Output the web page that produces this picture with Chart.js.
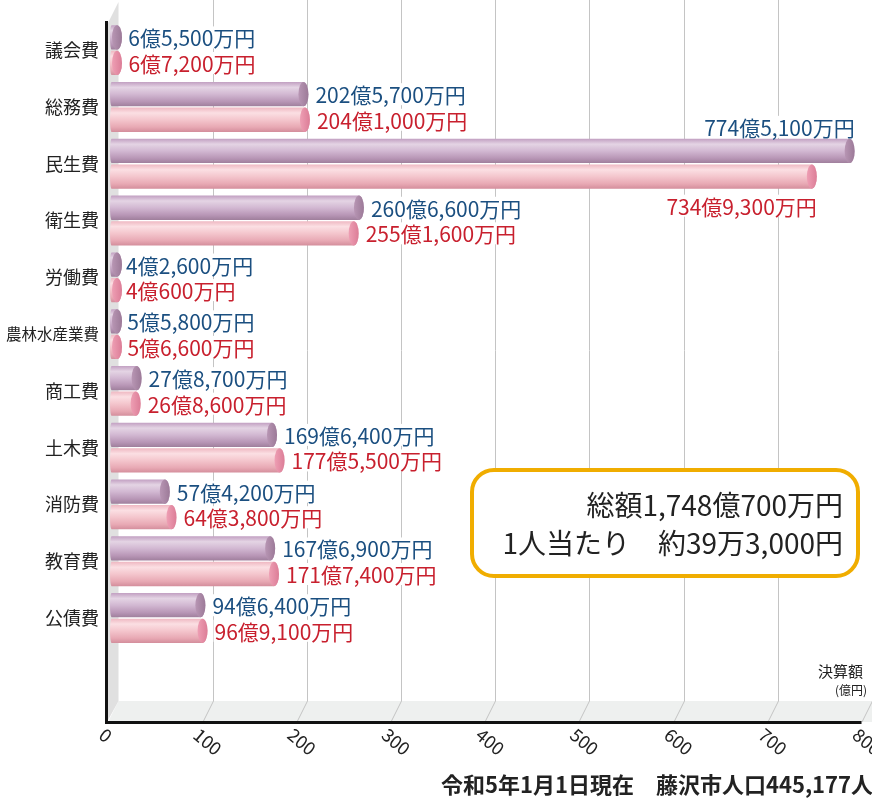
<!DOCTYPE html>
<html><head><meta charset="utf-8">
<script src="https://cdn.jsdelivr.net/npm/chart.js@4.4.1/dist/chart.umd.min.js"></script>
<style>html,body{margin:0;padding:0;background:#fff;}#wrap{width:872px;height:801px;position:relative;}</style>
</head><body><div id="wrap"><canvas id="c" width="872" height="801"></canvas></div>
<script>
// ---- data (億円) ----
const categories = ['議会費','総務費','民生費','衛生費','労働費','農林水産業費','商工費','土木費','消防費','教育費','公債費'];
const seriesPurple = [6.55,202.57,774.51,260.66,4.26,5.58,27.87,169.64,57.42,167.69,94.64];
const seriesPink   = [6.72,204.10,734.93,255.16,4.06,5.66,26.86,177.55,64.38,171.74,96.91];
const tickValues = [0,100,200,300,400,500,600,700,800];
const totalText = '総額1,748億700万円';
const perCapitaText = '1人当たり　約39万3,000円';
const footerText = '令和5年1月1日現在　藤沢市人口445,177人';
const unitTitle = '決算額';
const unitSub = '(億円)';

const FONT = '"Noto Sans CJK JP","Noto Sans",sans-serif';
Chart.defaults.font.family = FONT;

function fmt(v){
  const t = Math.round(v*10000);
  const oku = Math.floor(t/10000), man = t%10000;
  return oku + '億' + (man ? man.toLocaleString('en-US') + '万円' : '円');
}

const PAL = [
  {stops:[[0,'#c2a0c2'],[0.22,'#e4d4e4'],[0.5,'#d2b8d2'],[0.8,'#b896b6'],[1,'#9f7f9c']], cap:['#b896b4','#9c7a98'], text:'#1b4f80'},
  {stops:[[0,'#efb8c2'],[0.22,'#fbdfe3'],[0.5,'#f4c6cd'],[0.8,'#e8a9b4'],[1,'#d48e9c']], cap:['#ee9fb4','#dc7d97'], text:'#c8202e'}
];
const LABEL_FONT = '21px ' + FONT;

function labelPos(el, di, v){
  if (v > 600){
    if (di===0) return {x:el.x, y:el.y - el.height/2 - 12, align:'right'};
    return {x:el.x, y:el.y + el.height/2 + 17, align:'right'};
  }
  return {x:el.x + 7, y:el.y, align:'left'};
}

const deco = {
  id:'deco',
  beforeDatasetsDraw(chart){
    const ctx = chart.ctx, xs = chart.scales.x;
    const backY = 701, frontY = 722, dx = 10.5;
    ctx.save();
    // floor
    ctx.fillStyle = '#eef0ef';
    ctx.beginPath();
    ctx.moveTo(108, frontY); ctx.lineTo(118.5, backY); ctx.lineTo(872, backY); ctx.lineTo(872, frontY);
    ctx.closePath(); ctx.fill();
    // left wall
    ctx.fillStyle = '#e0e0e0';
    ctx.beginPath();
    ctx.moveTo(107, 25); ctx.lineTo(118.5, 2); ctx.lineTo(118.5, backY); ctx.lineTo(107, frontY);
    ctx.closePath(); ctx.fill();
    // grid lines
    ctx.strokeStyle = '#c4c4c4'; ctx.lineWidth = 1;
    tickValues.forEach(v => {
      if (v === 0) return;
      const bx = Math.round(xs.getPixelForValue(v)) + 0.5;
      ctx.beginPath();
      ctx.moveTo(bx, 0); ctx.lineTo(bx, backY); ctx.lineTo(bx - dx, frontY);
      ctx.stroke();
    });
    // baseline and vertical axis
    ctx.fillStyle = '#111';
    ctx.fillRect(105, 21, 3, frontY - 21 + 2);
    ctx.fillRect(105, frontY - 1, xs.getPixelForValue(800) - dx - 105, 3);
    // label backgrounds
    ctx.font = LABEL_FONT;
    chart.data.datasets.forEach((ds, di) => {
      chart.getDatasetMeta(di).data.forEach((el, i) => {
        const p = labelPos(el, di, ds.data[i]);
        const w = ctx.measureText(fmt(ds.data[i])).width;
        const x0 = p.align === 'left' ? p.x : p.x - w;
        ctx.fillStyle = '#fff';
        ctx.fillRect(x0 - 1, p.y - 11, w + 2, 22);
      });
    });
    ctx.restore();
  },
  afterDatasetsDraw(chart){
    const ctx = chart.ctx, xs = chart.scales.x;
    ctx.save();
    // 3D bars
    chart.data.datasets.forEach((ds, di) => {
      const pal = PAL[di];
      chart.getDatasetMeta(di).data.forEach((el) => {
        const h = el.height, top = el.y - h/2, bot = el.y + h/2, base = el.base, rx = 5;
        const cx = Math.max(el.x - rx, base + 7);
        const g = ctx.createLinearGradient(0, top, 0, bot);
        pal.stops.forEach(s => g.addColorStop(s[0], s[1]));
        ctx.fillStyle = g;
        ctx.beginPath();
        ctx.moveTo(base + 1.5, top); ctx.lineTo(cx, top);
        ctx.ellipse(cx, el.y, rx, h/2, 0, -Math.PI/2, Math.PI/2);
        ctx.lineTo(base + 1.5, bot);
        ctx.ellipse(base + 1.5, el.y, 1.5, h/2, 0, Math.PI/2, Math.PI*1.5);
        ctx.closePath(); ctx.fill();
        const cg = ctx.createLinearGradient(cx - rx, 0, cx + rx, 0);
        cg.addColorStop(0, pal.cap[0]); cg.addColorStop(1, pal.cap[1]);
        ctx.fillStyle = cg;
        ctx.beginPath(); ctx.ellipse(cx, el.y, rx, h/2, 0, 0, Math.PI*2); ctx.fill();
      });
    });
    // value labels
    ctx.font = LABEL_FONT;
    ctx.textBaseline = 'middle';
    chart.data.datasets.forEach((ds, di) => {
      chart.getDatasetMeta(di).data.forEach((el, i) => {
        const p = labelPos(el, di, ds.data[i]);
        ctx.textAlign = p.align;
        ctx.fillStyle = PAL[di].text;
        ctx.fillText(fmt(ds.data[i]), p.x, p.y + 1);
      });
    });
    // tick labels (rotated, on front edge of floor)
    ctx.fillStyle = '#222';
    ctx.font = '18px ' + FONT;
    ctx.textAlign = 'left'; ctx.textBaseline = 'middle';
    tickValues.forEach(v => {
      const fx = xs.getPixelForValue(v) - 10.5;
      ctx.save();
      ctx.translate(fx - 6, 732);
      ctx.rotate(40 * Math.PI / 180);
      ctx.fillText(String(v), 0, 0);
      ctx.restore();
    });
    // unit
    ctx.textAlign = 'right';
    ctx.font = '15px ' + FONT; ctx.fillStyle = '#222';
    ctx.fillText(unitTitle, 863, 671);
    ctx.font = '12px ' + FONT;
    ctx.fillText(unitSub, 867, 690);
    // summary box
    ctx.lineWidth = 4; ctx.strokeStyle = '#f0ad00'; ctx.fillStyle = '#fff';
    ctx.beginPath(); ctx.roundRect(472, 470, 386, 106, 22); ctx.fill(); ctx.stroke();
    ctx.fillStyle = '#222'; ctx.font = '28px ' + FONT;
    ctx.fillText(totalText, 843, 505);
    ctx.fillText(perCapitaText, 843, 543);
    // footer
    ctx.font = 'bold 22px ' + FONT;
    ctx.fillText(footerText, 873, 785);
    ctx.restore();
  }
};

new Chart(document.getElementById('c'), {
  type: 'bar',
  data: {
    labels: categories,
    datasets: [
      {label:'purple', data: seriesPurple, xAxisID:'xb', base:-5.24, backgroundColor:'rgba(0,0,0,0)', borderWidth:0},
      {label:'pink', data: seriesPink, xAxisID:'xb', base:-5.24, backgroundColor:'rgba(0,0,0,0)', borderWidth:0}
    ]
  },
  options: {
    indexAxis: 'y',
    responsive: false,
    animation: false,
    categoryPercentage: 0.9,
    barPercentage: 0.95,
    layout: {padding: {top: 21.6, bottom: 154.6, left: 0, right: 0}},
    plugins: {legend: {display: false}, tooltip: {enabled: false}},
    scales: {
      x: {type:'linear', min:-9, max:800, display:false},
      xb: {type:'linear', axis:'x', min:-5.24, max:792.7, display:false},
      y: {
        type:'category', position:'left',
        grid:{display:false, drawTicks:false}, border:{display:false},
        ticks:{padding:11, color:'#222', font:(c)=>({family:FONT, size: c.index===5 ? 15.5 : 18})},
        afterFit:(s)=>{ s.width = 110; }
      }
    }
  },
  plugins: [deco]
});
</script>
</body></html>
